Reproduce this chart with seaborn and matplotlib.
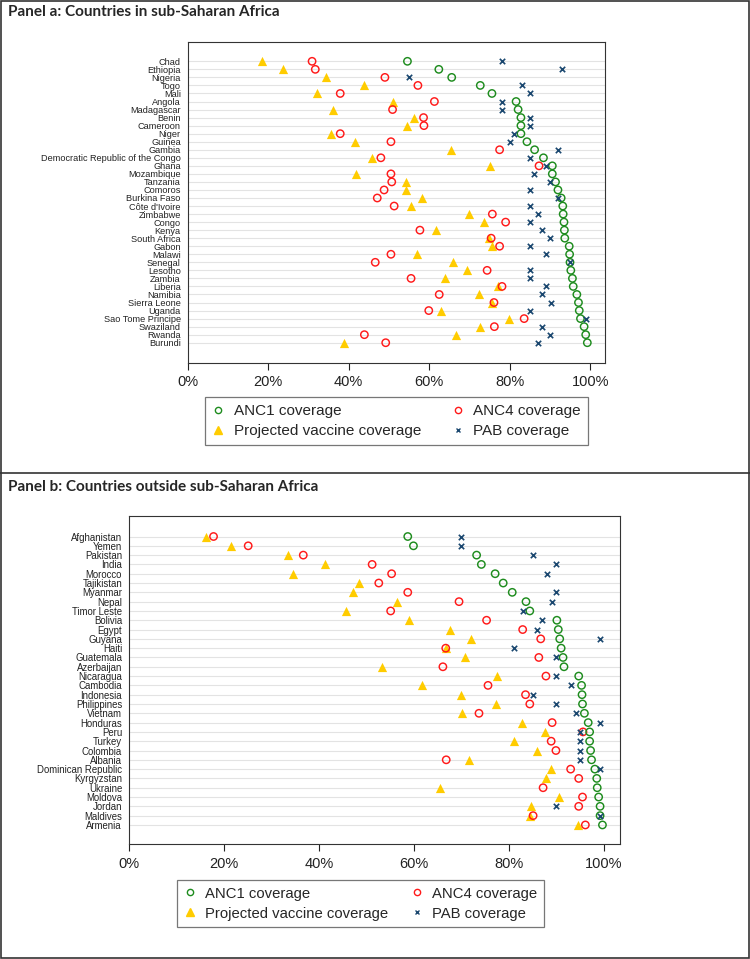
import numpy as np
import pandas as pd
import matplotlib
matplotlib.use("Agg")
import matplotlib.pyplot as plt
from matplotlib.patches import Rectangle
from matplotlib.lines import Line2D
import seaborn as sns

#%% data
nan = np.nan

countries_a = ["Chad", "Ethiopia", "Nigeria", "Togo", "Mali", "Angola", "Madagascar",
               "Benin", "Cameroon", "Niger", "Guinea", "Gambia",
               "Democratic Republic of the Congo", "Ghana", "Mozambique", "Tanzania",
               "Comoros", "Burkina Faso", "Côte d'Ivoire", "Zimbabwe", "Congo", "Kenya",
               "South Africa", "Gabon", "Malawi", "Senegal", "Lesotho", "Zambia",
               "Liberia", "Namibia", "Sierra Leone", "Uganda", "Sao Tome Principe",
               "Swaziland", "Rwanda", "Burundi"]
anc1_a = [54.6, 62.4, 65.6, 72.7, 75.6, 81.6, 82.1, 82.8, 82.8, 82.8, 84.3, 86.2,
          88.4, 90.6, 90.6, 91.4, 92.0, 92.8, 93.2, 93.3, 93.5, 93.6, 93.7, 94.8,
          94.9, 95.0, 95.2, 95.6, 95.8, 96.7, 97.1, 97.3, 97.6, 98.5, 98.9, 99.3]
anc4_a = [30.9, 31.7, 49.0, 57.2, 37.9, 61.3, 50.9, 58.6, 58.7, 37.9, 50.5, 77.5,
          48.0, 87.3, 50.5, 50.7, 48.8, 47.1, 51.3, 75.7, 79.0, 57.7, 75.4, 77.5,
          50.5, 46.6, 74.4, 55.5, 78.1, 62.5, 76.1, 59.9, 83.6, 76.2, 43.9, 49.2]
vacc_a = [18.5, 23.7, 34.3, 43.8, 32.1, 50.9, 36.0, 56.3, 54.6, 35.7, 41.6, 65.4,
          45.8, 75.0, 41.7, 54.2, 54.2, 58.1, 55.5, 70.0, 73.6, 61.6, 74.8, 75.6,
          56.9, 65.8, 69.5, 63.9, 77.0, 72.5, 75.6, 62.9, 79.9, 72.7, 66.6, 38.9]
pab_a = [78.0, 93.0, 54.9, 83.1, 85.1, 78.0, 78.0, 85.1, 85.1, 81.0, 80.1, 92.1,
         85.1, 89.0, 86.0, 90.0, 85.1, 92.0, 85.1, 87.0, 85.1, 88.1, 90.1, 85.1,
         89.1, 95.0, 85.1, 85.1, 89.1, 88.1, 90.2, 85.1, 99.0, 88.1, 90.1, 87.0]

countries_b = ["Afghanistan", "Yemen", "Pakistan", "India", "Morocco", "Tajikistan",
               "Myanmar", "Nepal", "Timor Leste", "Bolivia", "Egypt", "Guyana", "Haiti",
               "Guatemala", "Azerbaijan", "Nicaragua", "Cambodia", "Indonesia",
               "Philippines", "Vietnam", "Honduras", "Peru", "Turkey", "Colombia",
               "Albania", "Dominican Republic", "Kyrgyzstan", "Ukraine", "Moldova",
               "Jordan", "Maldives", "Armenia"]
anc1_b = [58.7, 59.9, 73.2, 74.2, 77.1, 78.8, 80.7, 83.6, 84.4, 90.1, 90.4, 90.7,
          91.0, 91.4, 91.6, 94.7, 95.3, 95.4, 95.5, 95.9, 96.7, 97.0, 97.0, 97.2,
          97.4, 98.1, 98.5, 98.6, 98.9, 99.2, 99.2, 99.7]
anc4_b = [17.8, 25.1, 36.7, 51.2, 55.3, 52.6, 58.7, 69.5, 55.1, 75.3, 82.9, 86.7,
          66.7, 86.3, 66.1, 87.8, 75.6, 83.5, 84.4, 73.7, 89.1, 95.6, 88.9, 89.9,
          66.8, 93.0, 94.7, 87.2, 95.5, 94.7, 85.1, 96.1]
vacc_b = [16.2, 21.5, 33.5, 41.3, 34.5, 48.4, 47.1, 56.4, 45.8, 58.9, 67.6, 72.1,
          66.7, 70.8, 53.3, 77.4, 61.8, 70.0, 77.3, 70.1, 82.8, 87.6, 81.0, 86.0,
          71.5, 88.8, 87.9, 65.5, 90.6, 84.6, 84.4, 94.5]
pab_b = [70.0, 70.0, 85.1, 90.0, 88.1, nan, 90.0, 89.1, 83.0, 87.0, 86.0, 99.1,
         81.1, 90.0, nan, 90.0, 93.1, 85.1, 90.0, 94.1, 99.1, 94.9, 95.0, 95.0,
         95.0, 99.2, nan, nan, nan, 90.0, 99.2, nan]

xticks = [0, 20, 40, 60, 80, 100]
xticklabels = ["0%", "20%", "40%", "60%", "80%", "100%"]

#%% style
sns.set_style("white")
plt.rcParams['font.family'] = ['Liberation Sans', 'DejaVu Sans']

GREEN = "#1e8c1e"
RED = "#ff1a1a"
GOLD = "#ffcc00"
NAVY = "#1a476f"

fig = plt.figure(figsize=(7.5, 9.59), dpi=100)


def panel(ax, countries, anc1, anc4, vacc, pab, ylim, xmax, ylab_size):
    df = pd.DataFrame({"pos": np.arange(len(countries)), "country": countries,
                       "anc1": anc1, "anc4": anc4, "vacc": vacc, "pab": pab})
    sns.scatterplot(data=df, x="vacc", y="pos", ax=ax, marker="^", s=44,
                    color=GOLD, edgecolor=GOLD, linewidth=0, zorder=3)
    sns.scatterplot(data=df, x="anc4", y="pos", ax=ax, marker="o", s=28,
                    color=RED, facecolors="none", edgecolor=RED, linewidth=1.05, zorder=4)
    sns.scatterplot(data=df, x="anc1", y="pos", ax=ax, marker="o", s=28,
                    color=GREEN, facecolors="none", edgecolor=GREEN, linewidth=1.05, zorder=5)
    sns.scatterplot(data=df.dropna(subset=["pab"]), x="pab", y="pos", ax=ax, marker="x",
                    s=15, color=NAVY, linewidth=1.2, zorder=6)
    ax.set_xlim(0, xmax)
    ax.set_ylim(*ylim)
    ax.set_yticks(df["pos"])
    ax.set_yticklabels(countries, fontsize=ylab_size)
    ax.set_xticks(xticks)
    ax.set_xticklabels(xticklabels, fontsize=10.5)
    ax.set_xlabel("")
    ax.set_ylabel("")
    ax.grid(axis="y", color="#e3e3e3", linewidth=0.8, zorder=0)
    ax.grid(axis="x", visible=False)
    ax.set_axisbelow(True)
    ax.tick_params(axis="y", length=0, pad=5, colors="#222222")
    ax.tick_params(axis="x", length=5, width=0.8, direction="out", pad=4,
                   colors="#222222", bottom=True)
    for sp in ax.spines.values():
        sp.set_color("#333333")
        sp.set_linewidth(0.8)


def add_legend(ax, cx, top, fs, colsp):
    handles = [
        Line2D([], [], marker="o", ls="none", markersize=4.5, markerfacecolor="none",
               markeredgecolor=GREEN, markeredgewidth=1.0, label="ANC1 coverage"),
        Line2D([], [], marker="^", ls="none", markersize=6, color=GOLD,
               label="Projected vaccine coverage"),
        Line2D([], [], marker="o", ls="none", markersize=4.5, markerfacecolor="none",
               markeredgecolor=RED, markeredgewidth=1.0, label="ANC4 coverage"),
        Line2D([], [], marker="x", ls="none", markersize=3.5, color=NAVY,
               markeredgewidth=1.0, label="PAB coverage"),
    ]
    leg = ax.legend(handles=handles, ncol=2, loc="upper center",
                    bbox_to_anchor=(cx, top), bbox_transform=fig.transFigure,
                    fontsize=fs, frameon=True, fancybox=False, handlelength=0.8,
                    handletextpad=0.6, columnspacing=colsp, borderpad=0.45,
                    labelspacing=0.4, borderaxespad=0)
    leg.get_frame().set_edgecolor("#555555")
    leg.get_frame().set_linewidth(0.9)


#%% panel a
ax_a = fig.add_axes([0.2503, 0.6215, 0.5564, 0.3347])
panel(ax_a, countries_a, anc1_a, anc4_a, vacc_a, pab_a, (37.52, -2.4), 103.7, 6.6)
add_legend(ax_a, 0.5287, 1 - 397 / 959, 11, 2.0)

#%% panel b
ax_b = fig.add_axes([0.172, 0.1199, 0.6547, 0.3420])
panel(ax_b, countries_b, anc1_b, anc4_b, vacc_b, pab_b, (33.05, -2.2), 103.4, 6.9)
add_legend(ax_b, 0.4807, 1 - 880 / 959, 10.7, 1.6)

#%% titles and frames
fig.text(0.011, 1 - 12 / 959, "Panel a: Countries in sub-Saharan Africa",
         fontsize=11, fontweight="bold", family="Lato", va="center")
fig.text(0.011, 1 - 486.7 / 959, "Panel b: Countries outside sub-Saharan Africa",
         fontsize=11, fontweight="bold", family="Lato", va="center")
fig.add_artist(Rectangle((0.001, 0.001), 0.998, 0.998, transform=fig.transFigure,
                         fill=False, edgecolor="#333333", linewidth=1.2))
fig.add_artist(Line2D([0, 1], [1 - 473 / 959, 1 - 473 / 959], transform=fig.transFigure,
                      color="#333333", linewidth=1.2))

fig.savefig("out.png", dpi=100, facecolor="white")
